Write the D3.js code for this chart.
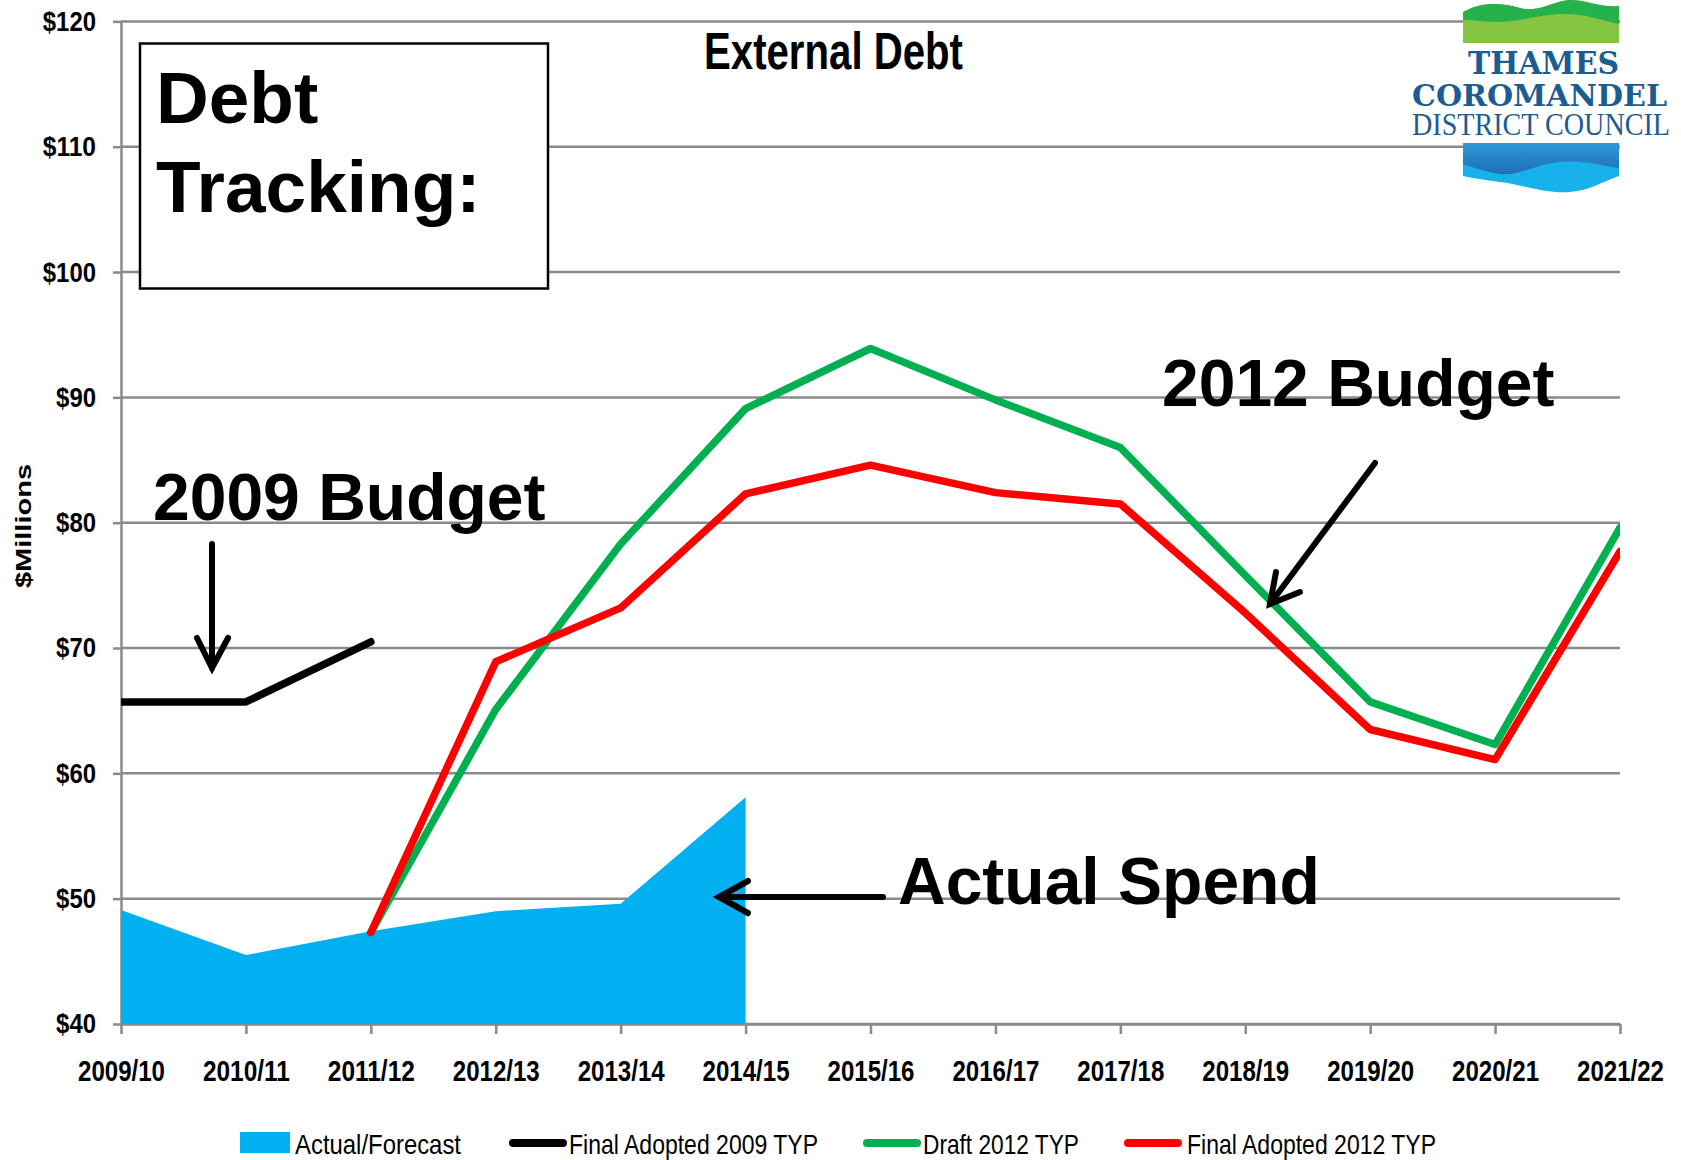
<!DOCTYPE html>
<html>
<head>
<meta charset="utf-8">
<script src="https://cdn.jsdelivr.net/npm/d3@7"></script>
<style>
  body { margin: 0; background: #fff; }
  svg { display: block; }
  .narrow { font-family: 'Liberation Sans', Arial, sans-serif; }
  .big { font-family: 'Liberation Sans', Arial, sans-serif; font-weight: bold; }
</style>
</head>
<body>
<svg id="chart"></svg>
<script>
// chart data ($ millions)
const years = ["2009/10", "2010/11", "2011/12", "2012/13", "2013/14", "2014/15", "2015/16",
               "2016/17", "2017/18", "2018/19", "2019/20", "2020/21", "2021/22"];
const actualForecast = [49.1, 45.5, 47.4, 49.0, 49.6, 58.1];
const finalAdopted2009 = [65.7, 65.7, 70.5];
const draft2012 = [null, null, 47.3, 65.1, 78.3, 89.1, 93.9, 89.8, 86.0, 75.8, 65.7, 62.3, 79.6];
const finalAdopted2012 = [null, null, 47.3, 68.9, 73.2, 82.3, 84.6, 82.4, 81.5, 72.8, 63.5, 61.1, 77.7];
const yTicks = [40, 50, 60, 70, 80, 90, 100, 110, 120];
const legendNames = ["Actual/Forecast", "Final Adopted 2009 TYP", "Draft 2012 TYP", "Final Adopted 2012 TYP"];
const legendColors = ["#00b0f0", "#000000", "#00b050", "#ff0000"];

let width = 1681, height = 1160;
let plotLeft = 121, plotRight = 1620, plotTop = 21.4, plotBottom = 1024;
let gridColor = "#8a8a8a";

var svg = d3.select("#chart")
  .attr("width", width)
  .attr("height", height);

let x = d3.scalePoint().domain(years).range([plotLeft, plotRight]);
let y = d3.scaleLinear().domain([40, 120]).range([plotBottom, plotTop]);

// gridlines
svg.append("g")
  .selectAll("line")
  .data(yTicks)
  .enter()
  .append("line")
  .attr("x1", plotLeft)
  .attr("x2", plotRight)
  .attr("y1", d => y(d))
  .attr("y2", d => y(d))
  .attr("stroke", gridColor)
  .attr("stroke-width", 2.5);

let yAxis = d3.axisLeft(y).tickValues(yTicks).tickFormat(d => "$" + d)
  .tickSize(8).tickSizeOuter(0).tickPadding(17);
let gy = svg.append("g")
  .attr("transform", "translate(" + plotLeft + ",0)")
  .call(yAxis);

let xAxis = d3.axisBottom(x).tickSize(10).tickSizeOuter(0).tickPadding(26);
let gx = svg.append("g")
  .attr("transform", "translate(0," + plotBottom + ")")
  .call(xAxis);

[gx, gy].forEach(g => {
  g.selectAll("path, line").attr("stroke", gridColor).attr("stroke-width", 2.5);
  g.selectAll("text")
    .attr("class", "narrow")
    .attr("fill", "#000")
    .attr("lengthAdjust", "spacingAndGlyphs")
    .style("font-weight", "bold");
});
// condensed look: squeeze the labels to the reference widths
gy.selectAll("text")
  .style("font-size", "28px")
  .attr("textLength", d => ("$" + d).length * 13.3);
gx.selectAll("text")
  .style("font-size", "30px")
  .attr("textLength", 87);

// clip to the plot area
svg.append("clipPath").attr("id", "plotclip")
  .append("rect")
  .attr("x", plotLeft).attr("y", 0)
  .attr("width", plotRight - plotLeft).attr("height", plotBottom + 2);

let plot = svg.append("g").attr("clip-path", "url(#plotclip)");

let area = d3.area()
  .x((d, i) => x(years[i]))
  .y0(y(40))
  .y1(d => y(d));

plot.append("path")
  .datum(actualForecast)
  .attr("d", area)
  .attr("fill", legendColors[0]);

let line = d3.line()
  .defined(d => d != null)
  .x((d, i) => x(years[i]))
  .y(d => y(d));

[[finalAdopted2009, legendColors[1]], [draft2012, legendColors[2]], [finalAdopted2012, legendColors[3]]]
  .forEach(s => {
    plot.append("path")
      .datum(s[0])
      .attr("d", line)
      .attr("fill", "none")
      .attr("stroke", s[1])
      .attr("stroke-width", 7.5)
      .attr("stroke-linejoin", "round")
      .attr("stroke-linecap", "round");
  });

// title and axis title
svg.append("text")
  .attr("class", "narrow")
  .attr("x", 704).attr("y", 68.5)
  .attr("textLength", 259).attr("lengthAdjust", "spacingAndGlyphs")
  .style("font-weight", "bold").style("font-size", "52px")
  .text("External Debt");

svg.append("text")
  .attr("class", "big")
  .attr("transform", "translate(31,526) rotate(-90)")
  .attr("text-anchor", "middle")
  .attr("textLength", 124).attr("lengthAdjust", "spacingAndGlyphs")
  .style("font-size", "22px")
  .text("$Millions");

// "Debt Tracking:" box
svg.append("rect")
  .attr("x", 140).attr("y", 43.5)
  .attr("width", 408).attr("height", 245)
  .attr("fill", "#fff").attr("stroke", "#000").attr("stroke-width", 2.5);

svg.append("text").attr("class", "big")
  .attr("x", 156).attr("y", 122.5).style("font-size", "73px").text("Debt");
svg.append("text").attr("class", "big")
  .attr("x", 156).attr("y", 211.5).style("font-size", "73px").text("Tracking:");

// annotations
let notes = [
  { t: "2009 Budget", x: 153, y: 520 },
  { t: "2012 Budget", x: 1162, y: 406 },
  { t: "Actual Spend", x: 898, y: 904 }
];
svg.append("g").selectAll("text")
  .data(notes).enter()
  .append("text")
  .attr("class", "big")
  .attr("x", d => d.x).attr("y", d => d.y)
  .style("font-size", "66px")
  .text(d => d.t);

let arrows = [
  { shaft: [[212, 544], [212, 668]], head: [[197, 638], [212, 668], [228, 638]] },
  { shaft: [[1375, 463], [1270, 604]], head: [[1276, 572], [1270, 604], [1300, 592]] },
  { shaft: [[883, 897], [719, 897]], head: [[748, 881], [719, 897], [748, 913]] }
];
arrows.forEach(a => {
  [a.shaft, a.head].forEach(p => {
    svg.append("path")
      .attr("d", d3.line()(p))
      .attr("fill", "none")
      .attr("stroke", "#000")
      .attr("stroke-width", 6)
      .attr("stroke-linecap", "round")
      .attr("stroke-linejoin", "miter");
  });
});

// legend
let legX = [240, 509, 863, 1124];
let legTextX = [295, 569, 923, 1187];
let legTextW = [166, 249, 156, 249];
let leg = svg.append("g");
legendNames.forEach((name, i) => {
  if (i === 0) {
    leg.append("rect")
      .attr("x", legX[i]).attr("y", 1132)
      .attr("width", 50).attr("height", 21)
      .attr("fill", legendColors[i]);
  } else {
    leg.append("line")
      .attr("x1", legX[i] + 4).attr("x2", legX[i] + 54)
      .attr("y1", 1143).attr("y2", 1143)
      .attr("stroke", legendColors[i])
      .attr("stroke-width", 8)
      .attr("stroke-linecap", "round");
  }
  leg.append("text")
    .attr("class", "narrow")
    .attr("x", legTextX[i]).attr("y", 1154)
    .attr("textLength", legTextW[i]).attr("lengthAdjust", "spacingAndGlyphs")
    .style("font-size", "28px")
    .text(name);
});

// council logo
let logo = svg.append("g");
let defs = svg.append("defs");
let gb = defs.append("linearGradient").attr("id", "blueGrad").attr("x1", 0).attr("y1", 0).attr("x2", 0).attr("y2", 1);
gb.append("stop").attr("offset", "0%").attr("stop-color", "#2e9ad8");
gb.append("stop").attr("offset", "100%").attr("stop-color", "#1c6fb4");

logo.append("path")
  .attr("d", "M1463,12 C1480,2 1500,2 1520,8 C1540,13 1555,0 1570,0 C1588,0 1600,8 1619,6 L1619,43 L1463,43 Z")
  .attr("fill", "#84c441");
logo.append("path")
  .attr("d", "M1463,12 C1480,2 1500,2 1520,8 C1540,13 1555,0 1570,0 C1588,0 1600,8 1619,6 L1619,24 C1600,20 1585,14 1565,14 C1540,14 1520,22 1495,22 C1480,22 1470,19 1463,20 Z")
  .attr("fill", "#25b14b");
logo.append("path")
  .attr("d", "M1463,143 L1619,143 L1619,176 C1600,183 1590,190 1570,192 C1545,194 1520,184 1500,182 C1485,180 1472,178 1463,176 Z")
  .attr("fill", "#17b2ec");
logo.append("path")
  .attr("d", "M1463,143 L1619,143 L1619,168 C1600,166 1585,160 1560,162 C1535,164 1520,176 1500,174 C1485,172 1472,166 1463,165 Z")
  .attr("fill", "url(#blueGrad)");

let logoText = [
  { t: "THAMES", x: 1468, y: 74, w: 151, s: 32, f: "'DejaVu Serif', serif", b: "bold" },
  { t: "COROMANDEL", x: 1412, y: 106, w: 255, s: 30, f: "'DejaVu Serif', serif", b: "bold" },
  { t: "DISTRICT COUNCIL", x: 1412, y: 135, w: 258, s: 31, f: "'Liberation Serif', serif", b: "normal" }
];
logoText.forEach(d => {
  logo.append("text")
    .attr("x", d.x).attr("y", d.y)
    .attr("textLength", d.w).attr("lengthAdjust", "spacingAndGlyphs")
    .style("font-family", d.f).style("font-weight", d.b).style("font-size", d.s + "px")
    .attr("fill", "#1b5d92")
    .text(d.t);
});
</script>
</body>
</html>
